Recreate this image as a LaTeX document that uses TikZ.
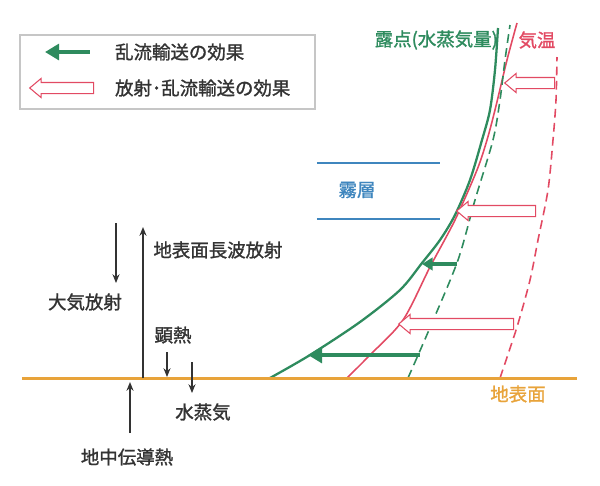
\documentclass[tikz,border=0pt]{standalone}
\usepackage{fontspec}
\setmainfont{Noto Sans CJK JP}[FakeBold=1.4]
\usetikzlibrary{arrows.meta,shapes.arrows}
\definecolor{dewgreen}{HTML}{2E8B5E}
\definecolor{airred}{HTML}{E24A63}
\definecolor{groundorange}{HTML}{E8A33A}
\definecolor{fogblue}{HTML}{3F86BE}
\definecolor{textgray}{HTML}{333333}

\begin{document}
\begin{tikzpicture}[x=0.02cm,y=-0.02cm,
      label/.style={text=textgray,font=\fontsize{10.5}{12}\selectfont,inner sep=1pt},
      flux/.style={-{Stealth[length=5pt,width=4pt]},line width=0.7pt,textgray},
      turb/.style={-{Triangle[length=8pt,width=9pt]},line width=2.6pt,dewgreen},
      radturb/.style={single arrow,draw=airred,fill=white,line width=0.6pt,shape border rotate=180,minimum width=0.36cm,inner sep=0.1cm,single arrow head extend=0.08cm,single arrow tip angle=80}]
      \useasboundingbox (0,0) rectangle (600,485);

      % legend
      \draw[gray!45,line width=0.6pt] (20,35) rectangle (315,109);
      \draw[turb] (90,52) -- (45,52);
      \node[radturb,minimum height=1.28cm] (legrad) at (65,88) {};
      \node[label,anchor=west] (legturb) at (113,52) {乱流輸送の効果};
      \node[label,anchor=west] (legradturb) at (113,88) {放射･乱流輸送の効果};

      % fog layer
      \draw[fogblue,line width=0.8pt] (317,163) -- (440,163);
      \draw[fogblue,line width=0.8pt] (317,219) -- (440,219);
      \node[label,text=fogblue] (fog) at (357,190) {霧層};

      % profiles
      \draw[dewgreen,line width=1.3pt] plot[smooth] coordinates {(270,378) (310,355) (360,322) (400,290) (422,263) (440,240) (455,215) (470,180) (482,140) (490,110) (495,70) (498,28)};
      \draw[airred,line width=0.9pt] plot[smooth] coordinates {(347,378) (370,355) (403,320) (430,267) (455,220) (477,170) (487,140) (495,110) (507,60) (517,23)};
      \draw[dewgreen,line width=0.9pt,dash pattern=on 5pt off 3pt] plot[smooth] coordinates {(408,378) (432,323) (458,260) (475,200) (493,140) (500,100) (505,60) (510,25)};
      \draw[airred,line width=0.9pt,dash pattern=on 5pt off 3pt] plot[smooth] coordinates {(500,378) (517,327) (530,280) (538,240) (548,190) (553,140) (556,100) (557,57)};
      \node[label,text=dewgreen,anchor=east] (dew) at (500,40) {露点(水蒸気量)};
      \node[label,text=airred] (temp) at (537,40) {気温};

      % effect arrows
      \node[radturb,minimum height=1.0cm] (rad1) at (533,83) {};
      \node[radturb,minimum height=1.58cm] (rad2) at (499.5,211) {};
      \node[radturb,minimum height=2.3cm] (rad3) at (459.5,324) {};
      \draw[turb,line width=1.8pt,-{Triangle[length=6pt,width=7pt]}] (457,264) -- (422,264);
      \draw[turb] (420,355) -- (308,355);

      % ground
      \draw[groundorange,line width=1.7pt] (22,378) -- (577,378);
      \node[label,text=groundorange] (surface) at (518,394) {地表面};

      % surface fluxes
      \draw[flux] (116,223) -- (116,283);
      \node[label] (atmrad) at (85,302) {大気放射};
      \draw[flux] (143,378) -- (143,227);
      \node[label] (longwave) at (218,250) {地表面長波放射};
      \draw[flux] (167,352) -- (167,377);
      \node[label] (sensible) at (173,335) {顕熱};
      \draw[flux] (192,362) -- (192,393);
      \node[label] (vapour) at (203,412) {水蒸気};
      \draw[flux] (130,433) -- (130,382);
      \node[label] (soil) at (127,457) {地中伝導熱};
    \end{tikzpicture}
\end{document}
